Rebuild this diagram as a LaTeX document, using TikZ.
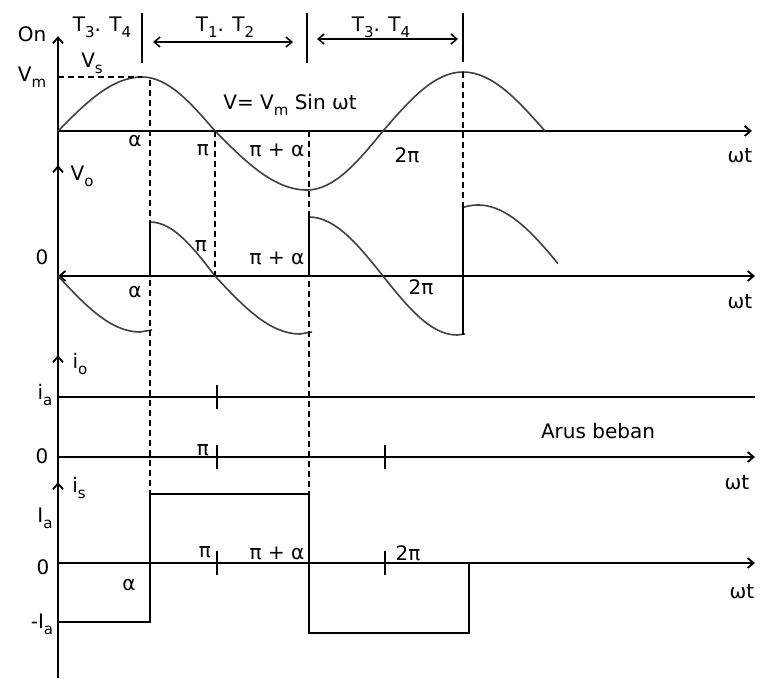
\documentclass[tikz,border=0pt]{standalone}
\usepackage{fontspec}
\setmainfont{DejaVu Sans}
\usetikzlibrary{arrows.meta}
\newcommand{\lowidx}[1]{\raisebox{-0.3em}{\fontsize{15}{15}\selectfont #1}}

\begin{document}
\begin{tikzpicture}[
    x=1pt, y=-1pt,
    axis/.style={draw, line width=1.8pt, -{Straight Barb[length=6pt, width=10pt]}},
    wave/.style={draw, line width=1.6pt, black!75},
    guide/.style={draw, line width=1.4pt, dash pattern=on 6pt off 4pt},
    bar/.style={draw, line width=1.8pt},
    span/.style={draw, line width=1.5pt, {Straight Barb[length=6pt, width=10pt]}-{Straight Barb[length=6pt, width=10pt]}},
    lbl/.style={font=\fontsize{20}{22}\selectfont, inner sep=0pt}
]
\useasboundingbox (0,0) rectangle (768,678);

\coordinate (ybot) at (58,678);
\coordinate (ytop) at (58,36);
\coordinate (o1) at (58,131);
\coordinate (e1) at (752,131);
\coordinate (o2) at (58,276);
\coordinate (e2) at (755,276);
\coordinate (oa) at (58,397);
\coordinate (ea) at (755,397);
\coordinate (o4) at (58,457);
\coordinate (e4) at (755,457);
\coordinate (o5) at (58,563);
\coordinate (e5) at (755,563);

\draw[axis] (ybot) -- (ytop);
\draw[axis] (58,178) -- (58,165);
\draw[axis] (58,368) -- (58,355);
\draw[axis] (58,495) -- (58,482);
\draw[axis] (o1) -- (e1);
\draw[axis, {Straight Barb[length=6pt, width=10pt]}-{Straight Barb[length=6pt, width=10pt]}] (o2) -- (e2);
\draw[bar] (oa) -- (ea);
\draw[axis] (o4) -- (e4);
\draw[axis] (o5) -- (e5);

% supply voltage
\coordinate (pk1) at (142,77);
\coordinate (pk2) at (463,72);
\draw[wave] (o1) sin (pk1) cos (215,131) sin (307,190) cos (383,131) sin (pk2) cos (545,131);
\draw[guide] (58,77) -- (pk1);

% output voltage
\draw[wave] (o2) sin (140,332) -- (152,330);
\draw[wave] (150,222) cos (215,276) sin (300,334) -- (312,332);
\draw[wave] (309,217) cos (383,276) sin (457,335) -- (465,334);
\draw[wave] plot[domain=463:558, samples=40] (\x, {276 - 71*cos(\x - 478)});
\draw[bar] (150,276) -- (150,222);
\draw[bar] (309,276) -- (309,217);
\draw[bar] (463,335) -- (463,207);

% firing instants
\draw[guide] (150,80) -- (150,563);
\draw[guide] (215,131) -- (215,276);
\draw[guide] (309,131) -- (309,495);
\draw[guide] (pk2) -- (463,207);

% conduction intervals
\draw[bar] (142,13) -- (142,63);
\draw[bar] (307,13) -- (307,63);
\draw[bar] (463,13) -- (463,62);
\draw[span] (153,42) -- (293,42);
\draw[span] (317,39) -- (458,39);

% ticks
\foreach \tx/\ty in {217/397, 217/457, 385/457, 217/563, 385/563}
    \draw[bar] (\tx,\ty-12) -- (\tx,\ty+12);

% source current
\draw[bar] (58,622) -- (150,622) -- (150,494) -- (309,494) -- (309,633) -- (469,633) -- (469,563);

\node[lbl] (on) at (32,34) {On};
\node[lbl] (t34a) at (102,27) {T\lowidx{3}. T\lowidx{4}};
\node[lbl] (t12) at (225,27) {T\lowidx{1}. T\lowidx{2}};
\node[lbl] (t34b) at (381,27) {T\lowidx{3}. T\lowidx{4}};
\node[lbl] (vs) at (92,63) {V\lowidx{s}};
\node[lbl] (vm) at (32,77) {V\lowidx{m}};
\node[lbl] (veq) at (290,105) {V= V\lowidx{m} Sin ωt};
\node[lbl] (a1) at (135,141) {α};
\node[lbl] (p1) at (203,150) {π};
\node[lbl] (pa1) at (277,150) {π + α};
\node[lbl] (tp1) at (407,155) {2π};
\node[lbl] (wt1) at (740,156) {ωt};
\node[lbl] (vo) at (82,176) {V\lowidx{o}};
\node[lbl] (p2) at (201,246) {π};
\node[lbl] (z2) at (42,257) {0};
\node[lbl] (pa2) at (277,258) {π + α};
\node[lbl] (a2) at (135,292) {α};
\node[lbl] (tp2) at (421,287) {2π};
\node[lbl] (wt2) at (740,302) {ωt};
\node[lbl] (io) at (80,364) {i\lowidx{o}};
\node[lbl] (ia) at (45,395) {i\lowidx{a}};
\node[lbl] (p3) at (203,450) {π};
\node[lbl] (z3) at (42,456) {0};
\node[lbl] (load) at (598,431) {Arus beban};
\node[lbl] (wt3) at (737,483) {ωt};
\node[lbl] (is) at (79,488) {i\lowidx{s}};
\node[lbl] (ia2) at (45,518) {I\lowidx{a}};
\node[lbl] (p4) at (205,552) {π};
\node[lbl] (pa4) at (277,553) {π + α};
\node[lbl] (tp4) at (408,553) {2π};
\node[lbl] (z4) at (43,567) {0};
\node[lbl] (a4) at (129,585) {α};
\node[lbl] (wt4) at (742,592) {ωt};
\node[lbl] (mia) at (42,624) {-I\lowidx{a}};
\end{tikzpicture}
\end{document}
